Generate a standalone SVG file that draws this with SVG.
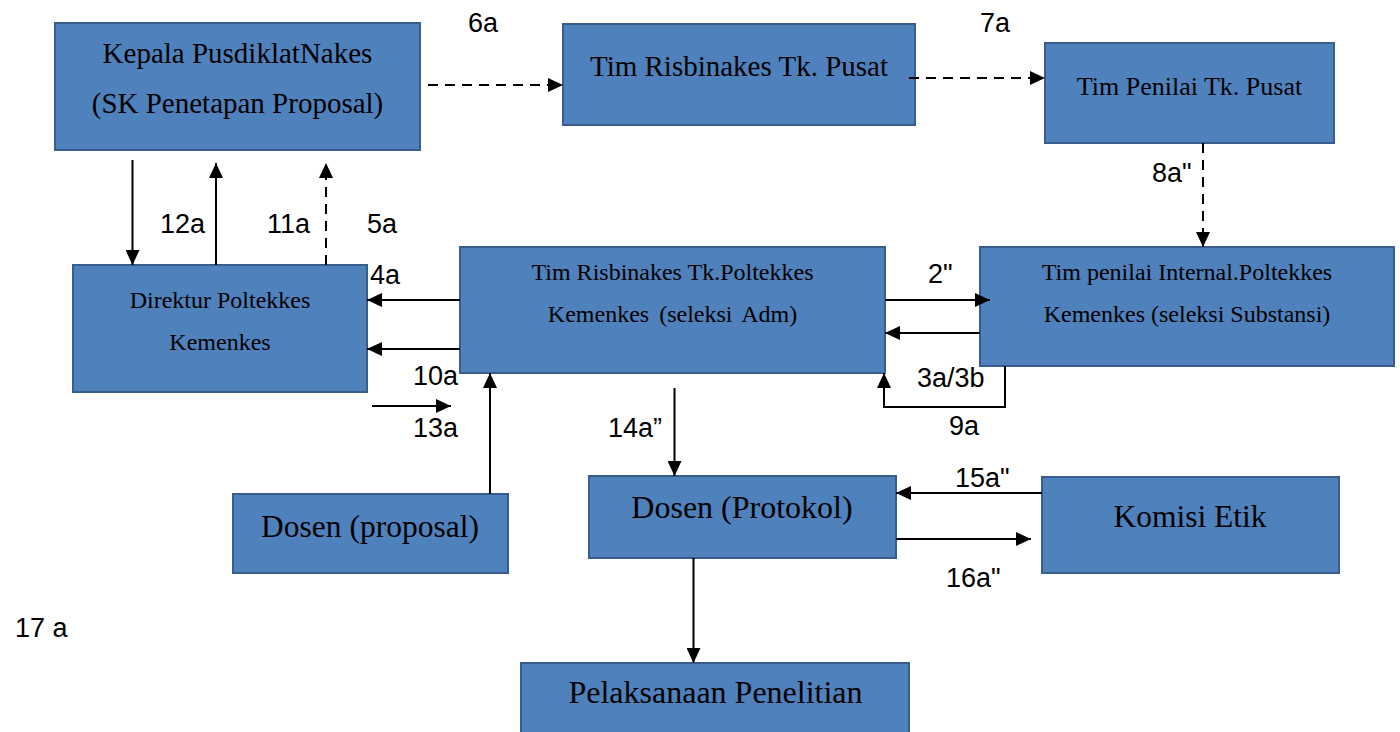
<svg xmlns="http://www.w3.org/2000/svg" width="1400" height="732" viewBox="0 0 1400 732">
<style>
.box{fill:#4F81BD;stroke:#385D8A;stroke-width:2}
.bt{font-family:"Liberation Serif","Times New Roman",serif;fill:#000;text-anchor:middle}
.lb{font-family:"Liberation Sans",Arial,sans-serif;font-size:27px;fill:#000}
.ln{fill:none;stroke:#000;stroke-width:2}
.ds{stroke-dasharray:10 7}
</style>
<defs>
<marker id="ah" markerUnits="userSpaceOnUse" markerWidth="15" markerHeight="14" viewBox="0 0 15 14" refX="15" refY="7" orient="auto">
<path d="M0 0 L15 7 L0 14 Z" fill="#000"/>
</marker>
</defs>
<g id="n-kepala"><rect class="box" x="55" y="23" width="365" height="127"/><text class="bt" x="237.5" y="63" font-size="29">Kepala PusdiklatNakes</text><text class="bt" x="237.5" y="113" font-size="29">(SK Penetapan Proposal)</text></g>
<g id="n-risbin-pusat"><rect class="box" x="563" y="24" width="352" height="101"/><text class="bt" x="739" y="76" font-size="29">Tim Risbinakes Tk. Pusat</text></g>
<g id="n-penilai-pusat"><rect class="box" x="1045" y="43" width="289" height="100"/><text class="bt" x="1189.5" y="95" font-size="26">Tim Penilai Tk. Pusat</text></g>
<g id="n-direktur"><rect class="box" x="73" y="265" width="294" height="127"/><text class="bt" x="220" y="308" font-size="24">Direktur Poltekkes</text><text class="bt" x="220" y="350" font-size="24">Kemenkes</text></g>
<g id="n-risbin-poltekkes"><rect class="box" x="460" y="247" width="425" height="126"/><text class="bt" x="672.5" y="280" font-size="24">Tim Risbinakes Tk.Poltekkes</text><text class="bt" x="672.5" y="322" font-size="24" word-spacing="4">Kemenkes (seleksi Adm)</text></g>
<g id="n-penilai-internal"><rect class="box" x="980" y="247" width="414" height="119"/><text class="bt" x="1187" y="280" font-size="24">Tim penilai Internal.Poltekkes</text><text class="bt" x="1187" y="322" font-size="24">Kemenkes (seleksi Substansi)</text></g>
<g id="n-dosen-proposal"><rect class="box" x="233" y="494" width="275" height="79"/><text class="bt" x="370" y="537" font-size="31.5">Dosen (proposal)</text></g>
<g id="n-dosen-protokol"><rect class="box" x="589" y="476" width="307" height="82"/><text class="bt" x="742" y="518" font-size="32">Dosen (Protokol)</text></g>
<g id="n-komisi"><rect class="box" x="1042" y="477" width="297" height="96"/><text class="bt" x="1190" y="527" font-size="31.5">Komisi Etik</text></g>
<g id="n-pelaksanaan"><rect class="box" x="521" y="663" width="388" height="72"/><text class="bt" x="715.5" y="703" font-size="32">Pelaksanaan Penelitian</text></g>
<g id="connectors">
<path class="ln ds" d="M428 85 H563" marker-end="url(#ah)"/>
<path class="ln ds" d="M909 78 H1045" marker-end="url(#ah)"/>
<path class="ln ds" d="M1203 143 V247" marker-end="url(#ah)"/>
<path class="ln" d="M132.5 160 V265" marker-end="url(#ah)"/>
<path class="ln" d="M216 265 V163" marker-end="url(#ah)"/>
<path class="ln ds" d="M326 265 V163" marker-end="url(#ah)"/>
<path class="ln" d="M460 300 H367" marker-end="url(#ah)"/>
<path class="ln" d="M460 349 H367" marker-end="url(#ah)"/>
<path class="ln" d="M372 406 H451" marker-end="url(#ah)"/>
<path class="ln" d="M490 494 V373" marker-end="url(#ah)"/>
<path class="ln" d="M885 300 H990" marker-end="url(#ah)"/>
<path class="ln" d="M980 333 H885" marker-end="url(#ah)"/>
<path class="ln" d="M1005 366 V407 H884 V373" marker-end="url(#ah)"/>
<path class="ln" d="M674.5 388 V476" marker-end="url(#ah)"/>
<path class="ln" d="M1042 493 H896" marker-end="url(#ah)"/>
<path class="ln" d="M896 539 H1031" marker-end="url(#ah)"/>
<path class="ln" d="M693.5 558 V663" marker-end="url(#ah)"/>
</g>
<g id="labels">
<text class="lb" x="468" y="32">6a</text>
<text class="lb" x="980" y="32">7a</text>
<text class="lb" x="1152" y="182">8a"</text>
<text class="lb" x="160" y="233">12a</text>
<text class="lb" x="267" y="233">11a</text>
<text class="lb" x="367" y="233">5a</text>
<text class="lb" x="370" y="284">4a</text>
<text class="lb" x="413" y="385">10a</text>
<text class="lb" x="413" y="437">13a</text>
<text class="lb" x="928" y="283">2"</text>
<text class="lb" x="917" y="387">3a/3b</text>
<text class="lb" x="949" y="435">9a</text>
<text class="lb" x="608" y="437">14a”</text>
<text class="lb" x="955" y="487">15a"</text>
<text class="lb" x="946" y="587">16a"</text>
<text class="lb" x="15" y="637">17 a</text>
</g>
</svg>
